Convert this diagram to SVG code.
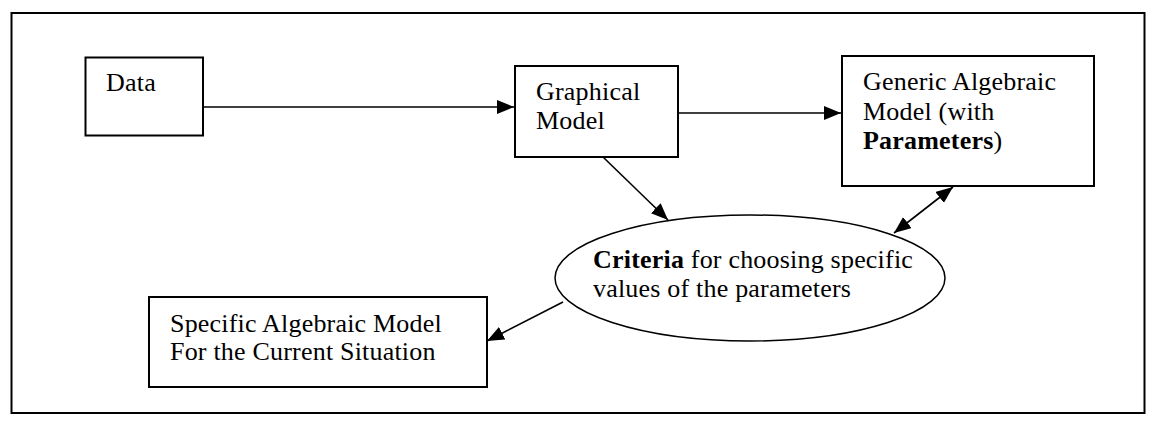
<svg xmlns="http://www.w3.org/2000/svg" width="1160" height="425" viewBox="0 0 1160 425">
<style>
.box{fill:#fff;stroke:#000;stroke-width:2}
.t{font-family:"Liberation Serif","Times New Roman",serif;font-size:26px;letter-spacing:0.2px;fill:#000}
.b{font-weight:bold}
.c{stroke:#000;stroke-width:1.6;fill:none}
</style>
<defs>
<marker id="ah" markerUnits="userSpaceOnUse" markerWidth="18" markerHeight="14" refX="17" refY="7" orient="auto-start-reverse">
<path d="M0,0 L17,7 L0,14 Z" fill="#000"/>
</marker>
</defs>
<rect x="0" y="0" width="1160" height="425" fill="#fff"/>
<rect id="frame" x="11.5" y="13" width="1133" height="400" fill="none" stroke="#000" stroke-width="2"/>
<g id="connectors">
<line class="c" x1="203" y1="107" x2="514" y2="107" marker-end="url(#ah)"/>
<line class="c" x1="678" y1="113" x2="841" y2="113" marker-end="url(#ah)"/>
<line class="c" x1="603" y1="157" x2="668" y2="220" marker-end="url(#ah)"/>
<line class="c" x1="894" y1="233" x2="953" y2="187" marker-start="url(#ah)" marker-end="url(#ah)"/>
<line class="c" x1="563" y1="302" x2="487" y2="341" marker-end="url(#ah)"/>
</g>
<g id="data">
<rect class="box" x="85.5" y="57.5" width="117.5" height="78"/>
<text class="t" x="106" y="91">Data</text>
</g>
<g id="graphical">
<rect class="box" x="515" y="66" width="163" height="91"/>
<text class="t" x="536" y="100">Graphical</text>
<text class="t" x="536" y="129">Model</text>
</g>
<g id="generic">
<rect class="box" x="842" y="56" width="252" height="130"/>
<text class="t" x="863" y="90">Generic Algebraic</text>
<text class="t" x="863" y="120">Model (with</text>
<text class="t" x="863" y="149"><tspan class="b">Parameters</tspan>)</text>
</g>
<g id="criteria">
<ellipse cx="750" cy="278" rx="195" ry="63" fill="#fff" stroke="#000" stroke-width="1.5"/>
<text class="t" x="593" y="268"><tspan class="b">Criteria</tspan> for choosing specific</text>
<text class="t" x="593" y="297">values of the parameters</text>
</g>
<g id="specific">
<rect class="box" x="149" y="297" width="338" height="90"/>
<text class="t" x="170" y="332">Specific Algebraic Model</text>
<text class="t" x="170" y="360">For the Current Situation</text>
</g>
</svg>
